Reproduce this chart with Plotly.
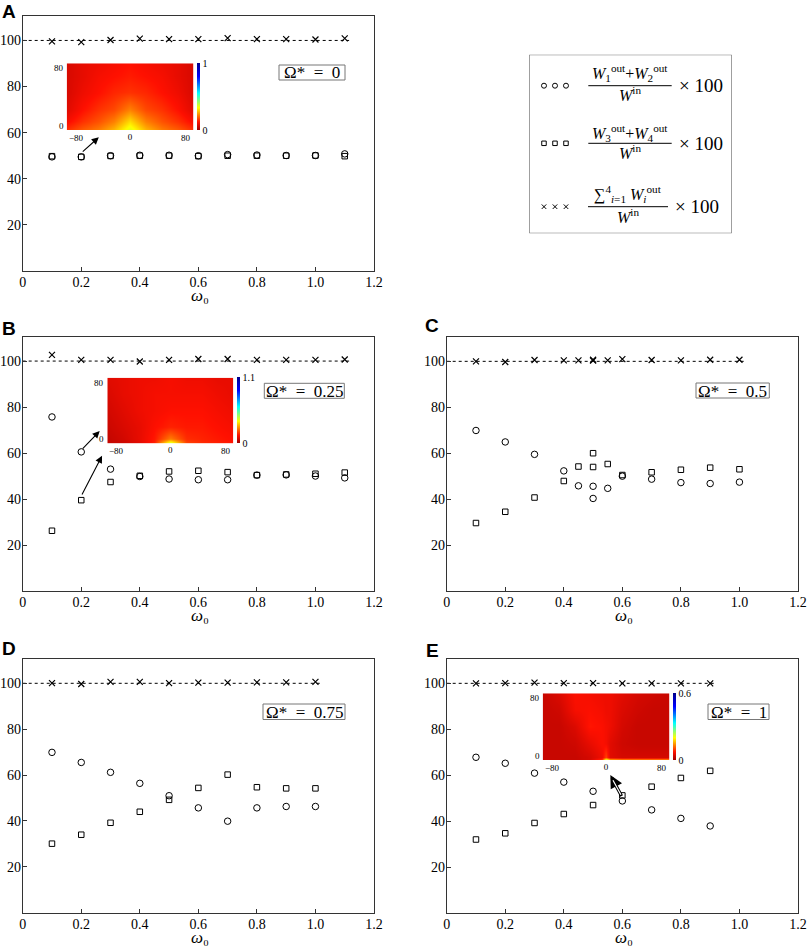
import plotly.graph_objects as go

# ---------------- data ----------------
A_x = [0.1, 0.2, 0.3, 0.4, 0.5, 0.6, 0.7, 0.8, 0.9, 1.0, 1.1]
A_circ = [49.5, 49.5, 50.0, 50.2, 50.2, 50.0, 50.5, 50.3, 50.1, 50.1, 50.8]
A_sq = [49.8, 49.5, 49.9, 50.0, 50.0, 49.8, 50.0, 50.0, 50.0, 50.1, 49.8]
A_cross = [99.6, 99.3, 100.2, 100.8, 100.6, 100.6, 101.0, 100.6, 100.6, 100.4, 100.9]

B_x = [0.1, 0.2, 0.3, 0.4, 0.5, 0.6, 0.7, 0.8, 0.9, 1.0, 1.1]
B_circ = [75.7, 60.5, 53.0, 49.8, 48.7, 48.4, 48.4, 50.4, 50.5, 50.0, 49.2]
B_sq = [26.2, 39.5, 47.4, 50.1, 52.0, 52.3, 51.7, 50.4, 50.7, 51.0, 51.5]
B_cross = [102.7, 100.5, 100.5, 99.8, 100.5, 100.9, 100.9, 100.5, 100.5, 100.5, 100.7]

C_x = [0.1, 0.2, 0.3, 0.4, 0.45, 0.5, 0.5, 0.55, 0.6, 0.7, 0.8, 0.9, 1.0]
C_circ = [69.9, 64.9, 59.5, 52.3, 45.8, 45.6, 40.3, 44.7, 50.0, 48.7, 47.2, 46.8, 47.4]
C_sq = [29.6, 34.5, 40.7, 47.9, 54.2, 54.0, 60.0, 55.3, 50.5, 51.7, 52.8, 53.7, 53.0]
C_cross = [100.0, 99.7, 100.6, 100.4, 100.4, 100.3, 100.7, 100.4, 101.0, 100.6, 100.4, 100.7, 100.7]

D_x = [0.1, 0.2, 0.3, 0.4, 0.5, 0.6, 0.7, 0.8, 0.9, 1.0]
D_circ = [69.9, 65.5, 61.2, 56.4, 51.0, 45.7, 39.9, 45.7, 46.3, 46.3]
D_sq = [30.1, 34.0, 39.2, 44.0, 49.2, 54.4, 60.2, 54.7, 54.2, 54.2]
D_cross = [100.1, 99.7, 100.6, 100.6, 100.1, 100.3, 100.3, 100.4, 100.4, 100.6]

E_x = [0.1, 0.2, 0.3, 0.4, 0.5, 0.6, 0.7, 0.8, 0.9]
E_circ = [67.8, 65.2, 60.9, 57.0, 53.0, 48.8, 44.9, 41.2, 37.9]
E_sq = [32.0, 34.7, 39.2, 43.1, 47.0, 51.2, 55.0, 58.8, 61.9]
E_cross = [100.0, 100.1, 100.3, 100.1, 100.1, 100.0, 100.0, 100.0, 100.0]

omega_labels = ["0", "0.25", "0.5", "0.75", "1"]
x_ticks = [0, 0.2, 0.4, 0.6, 0.8, 1.0, 1.2]
x_ticktext = ["0", "0.2", "0.4", "0.6", "0.8", "1.0", "1.2"]
y_ticks = [20, 40, 60, 80, 100]

# inset field maps (coarse, read by eye)
inA_x = [-80, -60, -40, -20, 0, 20, 40, 60, 80]
inA_y = [0, 10, 25, 45, 65, 80]
inA_z = [
    [0.15, 0.19, 0.22, 0.27, 0.36, 0.27, 0.22, 0.19, 0.15],
    [0.11, 0.15, 0.18, 0.22, 0.30, 0.22, 0.18, 0.15, 0.11],
    [0.08, 0.12, 0.15, 0.17, 0.22, 0.17, 0.15, 0.12, 0.08],
    [0.07, 0.10, 0.12, 0.14, 0.15, 0.14, 0.12, 0.10, 0.07],
    [0.07, 0.09, 0.11, 0.12, 0.13, 0.12, 0.11, 0.09, 0.07],
    [0.07, 0.09, 0.10, 0.11, 0.12, 0.11, 0.10, 0.09, 0.07],
]
inB_x = [-80, -60, -40, -20, 0, 20, 40, 60, 80]
inB_y = [0, 6, 20, 40, 60, 80]
inB_z = [
    [0.05, 0.06, 0.09, 0.15, 0.45, 0.19, 0.16, 0.15, 0.14],
    [0.05, 0.07, 0.10, 0.14, 0.24, 0.16, 0.15, 0.14, 0.13],
    [0.06, 0.08, 0.10, 0.13, 0.15, 0.14, 0.14, 0.13, 0.12],
    [0.07, 0.09, 0.11, 0.12, 0.13, 0.13, 0.13, 0.12, 0.11],
    [0.08, 0.10, 0.11, 0.12, 0.12, 0.12, 0.12, 0.11, 0.10],
    [0.09, 0.10, 0.11, 0.11, 0.12, 0.11, 0.11, 0.10, 0.10],
]
inE_x = [-80, -60, -40, -20, -5, 0, 5, 20, 40, 60, 80]
inE_y = [0, 3, 20, 40, 60, 80]
inE_z = [
    [0.03, 0.03, 0.03, 0.04, 0.10, 0.28, 0.20, 0.18, 0.18, 0.18, 0.18],
    [0.03, 0.03, 0.03, 0.04, 0.06, 0.10, 0.05, 0.04, 0.04, 0.04, 0.04],
    [0.03, 0.03, 0.035, 0.055, 0.07, 0.065, 0.05, 0.035, 0.03, 0.03, 0.03],
    [0.03, 0.03, 0.045, 0.075, 0.07, 0.065, 0.06, 0.04, 0.03, 0.03, 0.03],
    [0.03, 0.035, 0.065, 0.07, 0.065, 0.06, 0.06, 0.045, 0.035, 0.03, 0.03],
    [0.03, 0.045, 0.07, 0.065, 0.06, 0.06, 0.06, 0.05, 0.04, 0.035, 0.03],
]
inset_zmax = [1.0, 1.1, 0.6]
inset_cbtext = ["1", "1.1", "0.6"]

# ---------------- layout helpers ----------------
W, H = 809, 949
SERIF = "Liberation Serif"


def xd(a, b):
    return [a / W, b / W]


def yd(top, bottom):
    return [1 - bottom / H, 1 - top / H]


fig = go.Figure()

panels = [
    ("A", A_x, A_circ, A_sq, A_cross, xd(22.7, 374), yd(16, 271)),
    ("B", B_x, B_circ, B_sq, B_cross, xd(22.7, 374), yd(336.7, 591)),
    ("C", C_x, C_circ, C_sq, C_cross, xd(446.7, 798), yd(337, 591)),
    ("D", D_x, D_circ, D_sq, D_cross, xd(22.7, 374), yd(659, 912.7)),
    ("E", E_x, E_circ, E_sq, E_cross, xd(446.7, 798), yd(659, 913)),
]
label_pos = [(9, 11.5), (8.5, 328), (432, 325), (8.5, 648), (432, 650)]
# Omega* boxes in page pixels (left, top, right, bottom)
omega_box = [(279, 65, 345, 80), (264.3, 383.3, 344.3, 398.3), (696, 383, 769.3, 398),
             (263, 704, 345, 719.5), (708, 704, 769, 719.5)]

annotations = []
shapes = []
layout = {}

for i, (lab, xs, circ, sq, cross, xdom, ydom) in enumerate(panels):
    n = i + 1
    xa = "x" if n == 1 else f"x{n}"
    ya = "y" if n == 1 else f"y{n}"
    fig.add_trace(go.Scatter(x=[0, max(xs) + 0.015], y=[100, 100], mode="lines",
                             line=dict(color="black", width=1, dash="dot"),
                             xaxis=xa, yaxis=ya, showlegend=False, hoverinfo="skip"))
    fig.add_trace(go.Scatter(x=xs, y=circ, mode="markers",
                             marker=dict(symbol="circle-open", size=6.5, color="black",
                                         line=dict(width=1, color="black")),
                             xaxis=xa, yaxis=ya, showlegend=False))
    fig.add_trace(go.Scatter(x=xs, y=sq, mode="markers",
                             marker=dict(symbol="square-open", size=5.5, color="black",
                                         line=dict(width=1, color="black")),
                             xaxis=xa, yaxis=ya, showlegend=False))
    fig.add_trace(go.Scatter(x=xs, y=cross, mode="markers",
                             marker=dict(symbol="x-thin-open", size=6, color="black",
                                         line=dict(width=1.2, color="black")),
                             xaxis=xa, yaxis=ya, showlegend=False))
    axkey = "xaxis" if n == 1 else f"xaxis{n}"
    aykey = "yaxis" if n == 1 else f"yaxis{n}"
    layout[axkey] = dict(domain=xdom, range=[0, 1.2], anchor=ya, tickvals=x_ticks,
                         ticktext=x_ticktext, ticks="inside", ticklen=4, tickcolor="#333",
                         showline=True, linecolor="#333", linewidth=1, mirror=True,
                         showgrid=False, zeroline=False, automargin=False,
                         ticklabelstandoff=-2,
                         tickfont=dict(family=SERIF, size=14, color="black"))
    layout[aykey] = dict(domain=ydom, range=[0, 110.6], anchor=xa, tickvals=y_ticks,
                         ticks="inside", ticklen=4, tickcolor="#333",
                         showline=True, linecolor="#333", linewidth=1, mirror=True,
                         showgrid=False, zeroline=False, automargin=False,
                         ticklabelstandoff=-2,
                         tickfont=dict(family=SERIF, size=14, color="black"))
    lx, ly = label_pos[i]
    annotations.append(dict(xref="paper", yref="paper", x=lx / W, y=1 - ly / H,
                            text=f"<b>{lab}</b>", showarrow=False, xanchor="center",
                            yanchor="middle",
                            font=dict(family="Liberation Sans", size=19, color="black")))
    bx0, by0, bx1, by1 = omega_box[i]
    shapes.append(dict(type="rect", xref="paper", yref="paper", x0=bx0 / W, x1=bx1 / W,
                       y0=1 - by1 / H, y1=1 - by0 / H, fillcolor="white",
                       line=dict(color="#777", width=1), layer="above"))
    annotations.append(dict(xref="paper", yref="paper", x=(bx0 + bx1) / 2 / W,
                            y=1 - ((by0 + by1) / 2 + 0.5) / H, xanchor="center",
                            yanchor="middle",
                            text=f"Ω*\u2002=\u2002{omega_labels[i]}", showarrow=False,
                            borderpad=0, font=dict(family=SERIF, size=17, color="black")))
    # x-axis title: omega with a Unicode subscript zero (keeps the line height small)
    bottom_px = (1 - ydom[0]) * H
    title_bottom = min(bottom_px + 35, H - 1)
    annotations.append(dict(xref="paper", yref="paper", x=(xdom[0] + xdom[1]) / 2 + 2 / W,
                            y=1 - title_bottom / H, xanchor="center", yanchor="bottom",
                            text="<i>ω</i>\u2080", showarrow=False, borderpad=0,
                            font=dict(family=SERIF, size=17, color="black")))

arrows = [
    ("x", "y", 0.26, 58.0, 0.2, 51.2),
    ("x2", "y2", 0.263, 69.6, 0.2, 61.3),
    ("x2", "y2", 0.271, 58.8, 0.2, 41.3),
]
for xa, ya, hx, hy, tx, ty in arrows:
    annotations.append(dict(xref=xa, yref=ya, axref=xa, ayref=ya, x=hx, y=hy, ax=tx, ay=ty,
                            text="", showarrow=True, arrowhead=2, arrowsize=1.3,
                            arrowwidth=1.1, arrowcolor="black", standoff=0, startstandoff=0))
annotations.append(dict(xref="x5", yref="y5", axref="x5", ayref="y5", x=0.559, y=60.1,
                        ax=0.6, ay=50.3, text="", showarrow=True, arrowhead=2, arrowsize=0.8,
                        arrowwidth=3.2, arrowcolor="black", standoff=0))
annotations.append(dict(xref="x5", yref="y5", axref="x5", ayref="y5", x=0.568, y=57.8,
                        ax=0.598, ay=50.8, text="", showarrow=True, arrowhead=0,
                        arrowwidth=1.2, arrowcolor="white", standoff=0))

# ---------------- legend box (hidden axis 6) ----------------
layout["xaxis6"] = dict(domain=xd(529.3, 731.7), range=[0, 202.4], visible=False,
                        anchor="y6", fixedrange=True, automargin=False)
layout["yaxis6"] = dict(domain=yd(54.7, 233.3), range=[178.6, 0], visible=False,
                        anchor="x6", fixedrange=True, automargin=False)
shapes.append(dict(type="rect", xref="x6", yref="y6", x0=0, x1=202.4, y0=0, y1=178.6,
                   line=dict(color="#555", width=1)))
leg_rows = [
    ("circle-open", 5, 31.0, 18.3, 39.6,
     "<i>W</i><sub>1</sub><sup>out</sup>+<i>W</i><sub>2</sub><sup>out</sup>", 59, 142.4, 171.5),
    ("square-open", 4.5, 88.6, 77.8, 97.6,
     "<i>W</i><sub>3</sub><sup>out</sup>+<i>W</i><sub>4</sub><sup>out</sup>", 59, 142.4, 171.5),
    ("x-thin-open", 4.5, 152.0, 139.5, 161.0,
     "∑<sup>4</sup><sub><i>i</i>=1</sub> <i>W</i><sub><i>i</i></sub><sup>out</sup>", 58.7, 138.7, 167.7),
]
for sym, msz, yrow, ynum, yden, num, lx0, lx1, xtimes in leg_rows:
    fig.add_trace(go.Scatter(x=[14.7, 25.7, 36.7], y=[yrow] * 3, mode="markers",
                             marker=dict(symbol=sym, size=msz, color="black",
                                         line=dict(width=1, color="black")),
                             xaxis="x6", yaxis="y6", showlegend=False, hoverinfo="skip"))
    shapes.append(dict(type="line", xref="x6", yref="y6", x0=lx0, x1=lx1, y0=yrow, y1=yrow,
                       line=dict(color="black", width=1)))
    annotations.append(dict(xref="x6", yref="y6", x=(lx0 + lx1) / 2, y=ynum, text=num,
                            showarrow=False, xanchor="center", yanchor="middle",
                            font=dict(family=SERIF, size=16, color="black")))
    annotations.append(dict(xref="x6", yref="y6", x=(lx0 + lx1) / 2, y=yden,
                            text="<i>W</i><sup>in</sup>",
                            showarrow=False, xanchor="center", yanchor="middle",
                            font=dict(family=SERIF, size=16, color="black")))
    annotations.append(dict(xref="x6", yref="y6", x=xtimes, y=yrow, text="× 100",
                            showarrow=False, xanchor="center", yanchor="middle",
                            font=dict(family=SERIF, size=19, color="black")))

# ---------------- insets ----------------
cscale = [[0.0, "#a00000"], [0.12, "#ff1000"], [0.22, "#ff8000"], [0.33, "#ffff00"],
          [0.55, "#00ffff"], [0.8, "#0000ff"], [1.0, "#00008a"]]
insets = [
    (inA_x, inA_y, inA_z, xd(66.7, 193.3), yd(63.3, 130)),
    (inB_x, inB_y, inB_z, xd(107.3, 233.3), yd(377.7, 443.3)),
    (inE_x, inE_y, inE_z, xd(542.7, 669.3), yd(693.3, 760)),
]
tf = dict(family=SERIF, size=9, color="black")
for j, (ix, iy, iz, xdom, ydom) in enumerate(insets):
    n = 7 + j
    zmax = inset_zmax[j]
    fig.add_trace(go.Heatmap(x=ix, y=iy, z=iz, zmin=0, zmax=zmax, zsmooth="best",
                             colorscale=cscale, xaxis=f"x{n}", yaxis=f"y{n}",
                             colorbar=dict(x=xdom[1] + 3.5 / W, xanchor="left",
                                           y=(ydom[0] + ydom[1]) / 2, yanchor="middle",
                                           lenmode="pixels", len=(ydom[1] - ydom[0]) * H,
                                           thickness=3, outlinewidth=0, ticks="",
                                           tickvals=[0, zmax],
                                           ticktext=["0", inset_cbtext[j]],
                                           tickfont=dict(family=SERIF, size=10, color="black"),
                                           xpad=0, ypad=0)))
    layout[f"xaxis{n}"] = dict(domain=xdom, range=[-80, 80], anchor=f"y{n}",
                               tickvals=[0], ticktext=["0"], ticks="",
                               showgrid=False, zeroline=False, showline=False,
                               automargin=False, ticklabelstandoff=0, tickfont=tf)
    layout[f"yaxis{n}"] = dict(domain=ydom, range=[0, 80], anchor=f"x{n}",
                               showticklabels=False, ticks="",
                               showgrid=False, zeroline=False, showline=False,
                               automargin=False)
    xr, yr = f"x{n}", f"y{n}"
    annotations += [
        dict(xref=xr, yref=yr, x=-80, y=0, text="−80", xanchor="left", yanchor="top",
             yshift=-1, showarrow=False, font=tf),
        dict(xref=xr, yref=yr, x=80, y=0, text="80", xanchor="right", yanchor="top",
             yshift=-1, showarrow=False, font=tf),
        dict(xref=xr, yref=yr, x=-80, y=80, text="80", xanchor="right", yanchor="top",
             xshift=-1, yshift=2, showarrow=False, font=tf),
        dict(xref=xr, yref=yr, x=-80, y=0, text="0", xanchor="right", yanchor="bottom",
             xshift=-1, yshift=-3, showarrow=False, font=tf),
    ]

fig.update_layout(
    width=W, height=H, margin=dict(l=0, r=0, t=0, b=0, pad=0, autoexpand=False),
    paper_bgcolor="white", plot_bgcolor="rgba(0,0,0,0)", showlegend=False,
    annotations=annotations, shapes=shapes, **layout,
)

fig.write_html("out.html", config={"displayModeBar": False},
               post_script="document.body.style.margin='0';document.body.style.overflow='hidden';")
